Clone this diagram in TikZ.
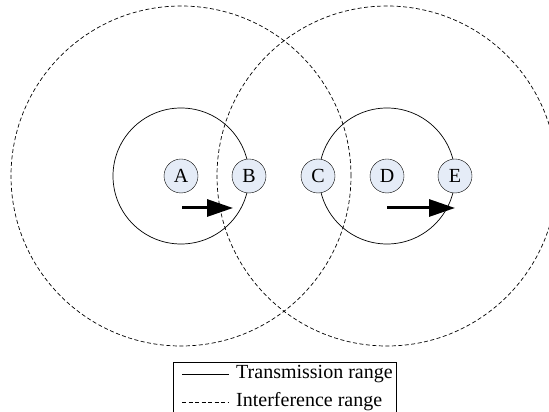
\documentclass[tikz,border=0pt]{standalone}
\usepackage{fontspec}
\setmainfont{Liberation Serif}
\usetikzlibrary{arrows.meta, positioning}
\definecolor{nodefill}{RGB}{229,236,247}

\begin{document}
\begin{tikzpicture}[
  x=1pt, y=1pt,
  station/.style={circle, draw, fill=nodefill, minimum size=34pt, inner sep=0pt, font=\fontsize{20}{23}\selectfont},
  txrange/.style={draw, line width=0.7pt},
  ifrange/.style={draw, line width=0.7pt, dash pattern=on 4pt off 2.5pt},
  move/.style={line width=3pt, -{Triangle[length=26pt, width=17pt]}},
  legtext/.style={anchor=west, inner sep=1pt, font=\fontsize{20}{23}\selectfont}
]
\useasboundingbox (0,0) rectangle (549,412);

% Ranges
\draw[ifrange] (181,236) circle (170);
\draw[ifrange] (387,236) circle (170);
\draw[txrange] (181,236) circle (68);
\draw[txrange] (387,236) circle (68);

% Nodes
\node[station] (A) at (181,236) {A};
\node[station] (B) at (249,236) {B};
\node[station] (C) at (318,236) {C};
\node[station] (D) at (387,236) {D};
\node[station] (E) at (455,236) {E};

% Arrows
\coordinate (ab1) at (182,204);
\coordinate (ab2) at (233,204);
\coordinate (de1) at (387,204);
\coordinate (de2) at (455,204);
\draw[move] (ab1) -- (ab2);
\draw[move] (de1) -- (de2);

% Legend
\draw[line width=0.7pt] (173,0) |- (396,50) -- (396,0);
\node[legtext] (tx) at (235,38) {Transmission range};
\node[legtext] (if) at (235,10) {Interference range};
\coordinate (txs) at (182,38);
\coordinate (ifs) at (182,10);
\draw[txrange] (txs) -- ([xshift=-6pt]tx.west);
\draw[ifrange] (ifs) -- ([xshift=-6pt]if.west);

\end{tikzpicture}
\end{document}
